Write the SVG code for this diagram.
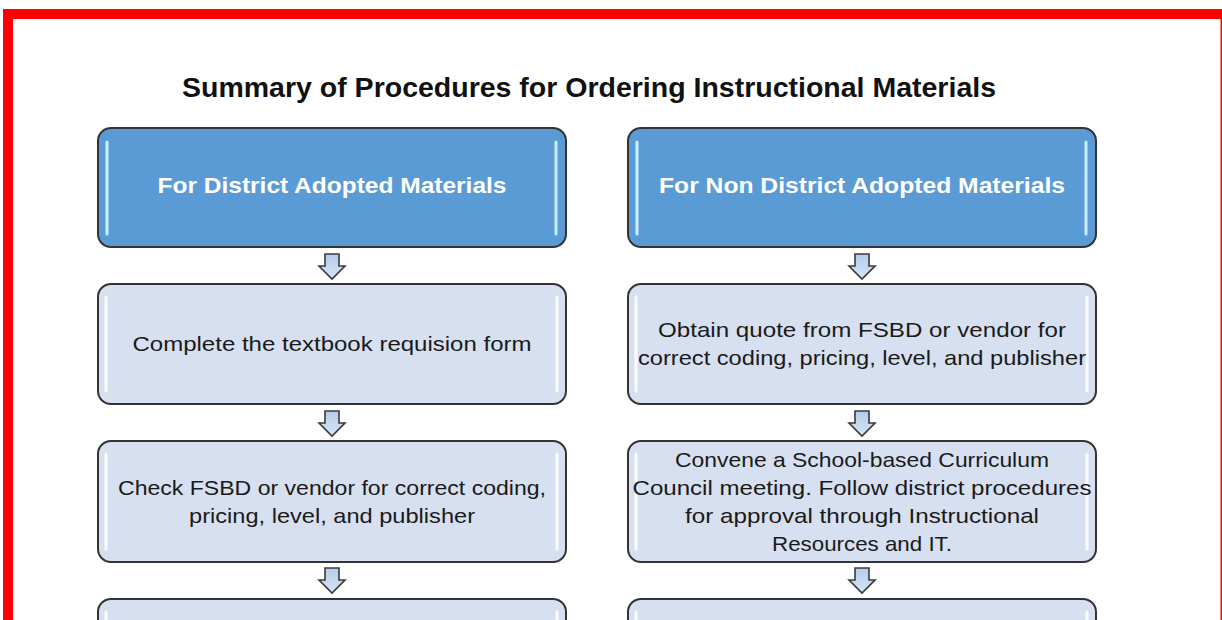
<svg xmlns="http://www.w3.org/2000/svg" width="1222" height="620" viewBox="0 0 1222 620">
<defs>
<style>
.hdr{fill:#5B9BD5;stroke:#333;stroke-width:2}
.box{fill:#D7E0F0;stroke:#333;stroke-width:2}
.hl1{stroke:#C8EEFF;stroke-width:3;stroke-linecap:round}
.hl2{stroke:#FFFFFF;stroke-width:3;stroke-linecap:round;opacity:0.9}
.ht{font-family:"Liberation Sans",Arial,sans-serif;font-weight:bold;font-size:22px;fill:#FFFFFF;text-anchor:middle}
.bt{font-family:"Liberation Sans",Arial,sans-serif;font-size:21px;fill:#1A1A1A;text-anchor:middle}
.title{font-family:"Liberation Sans",Arial,sans-serif;font-weight:bold;font-size:27px;fill:#111;text-anchor:middle}
.arr{fill:url(#ag);stroke:#3A3A3A;stroke-width:1.6;stroke-linejoin:miter}
</style>
<linearGradient id="ag" x1="0" y1="0" x2="0" y2="1">
<stop offset="0" stop-color="#B4CDEB"/>
<stop offset="1" stop-color="#D6E4F5"/>
</linearGradient>
<path id="arrow" d="M-7,0 H7 V12 H13 L0,25 L-13,12 H-7 Z"/>
</defs>
<rect x="0" y="0" width="1222" height="620" fill="#FFFFFF"/>
<g id="frame">
<rect x="3" y="9" width="1219" height="10" fill="#FF0000"/>
<rect x="3" y="9" width="10" height="611" fill="#FF0000"/>
<rect x="1220.5" y="19" width="1.5" height="601" fill="#FF0000"/>
</g>
<text class="title" x="589" y="97" textLength="814" lengthAdjust="spacingAndGlyphs">Summary of Procedures for Ordering Instructional Materials</text>
<g id="hdr-left">
<rect class="hdr" x="98" y="128" width="468" height="119" rx="13"/>
<line class="hl1" x1="107" y1="142" x2="107" y2="234"/>
<line class="hl1" x1="556" y1="142" x2="556" y2="234"/>
<text class="ht" x="332" y="193" textLength="349" lengthAdjust="spacingAndGlyphs">For District Adopted Materials</text>
</g>
<g id="hdr-right">
<rect class="hdr" x="628" y="128" width="468" height="119" rx="13"/>
<line class="hl1" x1="637" y1="142" x2="637" y2="234"/>
<line class="hl1" x1="1086" y1="142" x2="1086" y2="234"/>
<text class="ht" x="862" y="193" textLength="406" lengthAdjust="spacingAndGlyphs">For Non District Adopted Materials</text>
</g>
<g id="left-2">
<rect class="box" x="98" y="284" width="468" height="120" rx="13"/>
<line class="hl2" x1="106" y1="297" x2="106" y2="391"/>
<line class="hl2" x1="557" y1="297" x2="557" y2="391"/>
<text class="bt" x="332" y="351" textLength="399" lengthAdjust="spacingAndGlyphs">Complete the textbook requision form</text>
</g>
<g id="right-2">
<rect class="box" x="628" y="284" width="468" height="120" rx="13"/>
<line class="hl2" x1="636" y1="297" x2="636" y2="391"/>
<line class="hl2" x1="1087" y1="297" x2="1087" y2="391"/>
<text class="bt" x="862" y="337" textLength="408" lengthAdjust="spacingAndGlyphs">Obtain quote from FSBD or vendor for</text>
<text class="bt" x="862" y="365" textLength="448" lengthAdjust="spacingAndGlyphs">correct coding, pricing, level, and publisher</text>
</g>
<g id="left-3">
<rect class="box" x="98" y="441" width="468" height="121" rx="13"/>
<line class="hl2" x1="106" y1="454" x2="106" y2="549"/>
<line class="hl2" x1="557" y1="454" x2="557" y2="549"/>
<text class="bt" x="332" y="495" textLength="428" lengthAdjust="spacingAndGlyphs">Check FSBD or vendor for correct coding,</text>
<text class="bt" x="332" y="523" textLength="286" lengthAdjust="spacingAndGlyphs">pricing, level, and publisher</text>
</g>
<g id="right-3">
<rect class="box" x="628" y="441" width="468" height="121" rx="13"/>
<line class="hl2" x1="636" y1="454" x2="636" y2="549"/>
<line class="hl2" x1="1087" y1="454" x2="1087" y2="549"/>
<text class="bt" x="862" y="467" textLength="374" lengthAdjust="spacingAndGlyphs">Convene a School-based Curriculum</text>
<text class="bt" x="862" y="495" textLength="459" lengthAdjust="spacingAndGlyphs">Council meeting. Follow district procedures</text>
<text class="bt" x="862" y="523" textLength="354" lengthAdjust="spacingAndGlyphs">for approval through Instructional</text>
<text class="bt" x="862" y="551" textLength="180" lengthAdjust="spacingAndGlyphs">Resources and IT.</text>
</g>
<g id="left-4">
<rect class="box" x="98" y="599" width="468" height="121" rx="13"/>
<line class="hl2" x1="106" y1="612" x2="106" y2="700"/>
<line class="hl2" x1="557" y1="612" x2="557" y2="700"/>
</g>
<g id="right-4">
<rect class="box" x="628" y="599" width="468" height="121" rx="13"/>
<line class="hl2" x1="636" y1="612" x2="636" y2="700"/>
<line class="hl2" x1="1087" y1="612" x2="1087" y2="700"/>
</g>
<g id="connectors">
<use href="#arrow" class="arr" x="332" y="254"/>
<use href="#arrow" class="arr" x="862" y="254"/>
<use href="#arrow" class="arr" x="332" y="411"/>
<use href="#arrow" class="arr" x="862" y="411"/>
<use href="#arrow" class="arr" x="332" y="568"/>
<use href="#arrow" class="arr" x="862" y="568"/>
</g>
</svg>
